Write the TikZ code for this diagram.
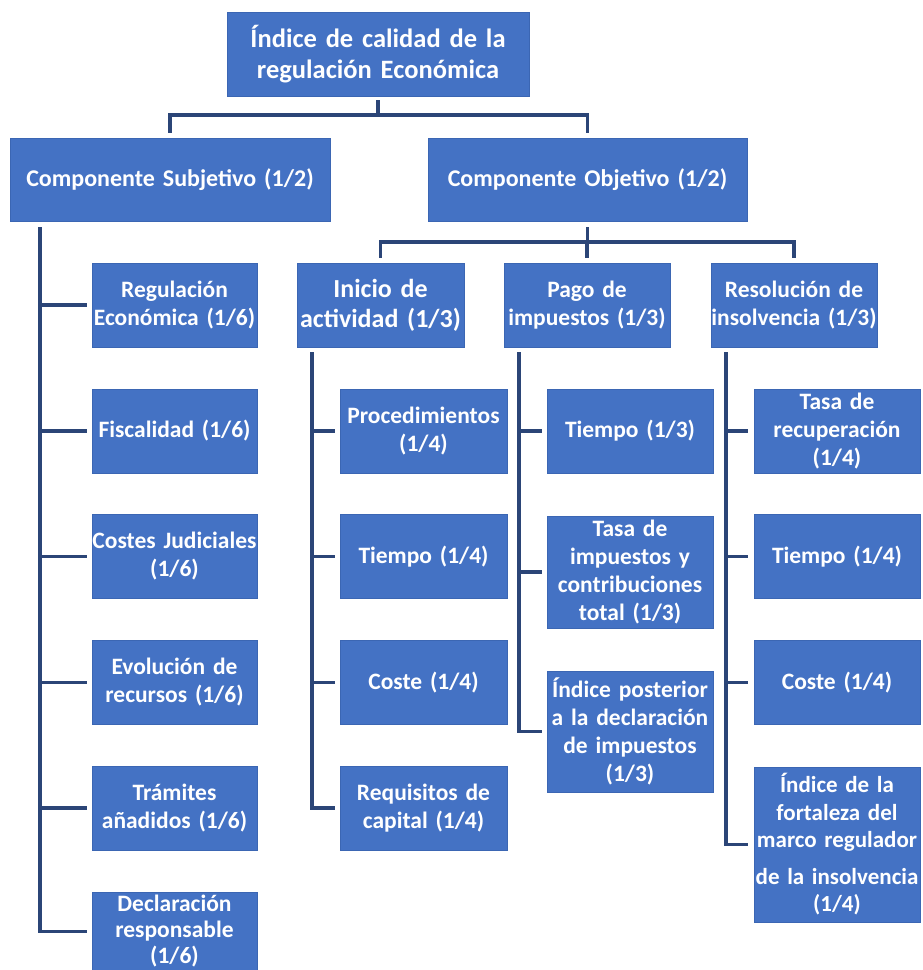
\documentclass[tikz,border=0pt]{standalone}
\usepackage{fontspec}
\setmainfont{Carlito}
\usetikzlibrary{calc}
\definecolor{boxblue}{HTML}{4472C4}
\definecolor{boxedge}{HTML}{3B66B3}
\definecolor{linecol}{HTML}{2B4577}
\begin{document}
\begin{tikzpicture}[x=1pt,y=-1pt,
  box/.style={fill=boxblue, draw=boxedge, line width=0.8pt, text=white, align=center, inner sep=0pt, font=\bfseries\fontsize{23.5}{28}\selectfont},
  sz/.style 2 args={minimum width=#1, text width=#1, minimum height=#2},
  bigtext/.style={font=\bfseries\fontsize{26.5}{31}\selectfont},
  midtext/.style={font=\bfseries\fontsize{24}{29}\selectfont},
  conn/.style={draw=linecol, line width=3.5pt, line join=miter}
]
\path[use as bounding box, clip] (0,0) rectangle (922,970);
\fill[white] (0,0) rectangle (922,970);

% level 0 and 1
\node[box, bigtext, sz={302pt}{84pt}] (top) at (378,54) {Índice de calidad de la\\regulación Económica};
\node[box, midtext, sz={320pt}{83pt}] (sub) at (170,179.5) {Componente Subjetivo (1/2)};
\node[box, midtext, sz={319pt}{83pt}] (obj) at (587.5,179.5) {Componente Objetivo (1/2)};

% level 2
\node[box, font=\bfseries\fontsize{26}{30}\selectfont, sz={167pt}{84pt}] (ini) at (380.5,305) {Inicio de\\actividad (1/3)};
\node[box, sz={166pt}{84pt}] (pago) at (587,305) {Pago de\\impuestos (1/3)};
\node[box, sz={166pt}{84pt}] (res) at (794,305) {Resolución de\\insolvencia (1/3)};

% subjective children
\node[box, sz={165pt}{84pt}] (s1) at (174.5,305) {Regulación\\Económica (1/6)};
\node[box, sz={165pt}{84pt}] (s2) at (174.5,431) {Fiscalidad (1/6)};
\node[box, sz={165pt}{84pt}] (s3) at (174.5,556.5) {Costes Judiciales\\(1/6)};
\node[box, sz={165pt}{84pt}] (s4) at (174.5,682.5) {Evolución de\\recursos (1/6)};
\node[box, sz={165pt}{84pt}] (s5) at (174.5,808) {Trámites\\añadidos (1/6)};
\node[box, font=\bfseries\fontsize{23.5}{26}\selectfont, sz={165pt}{79pt}] (s6) at (174.5,931.5) {Declaración\\responsable\\(1/6)};

% inicio children
\node[box, sz={167pt}{84pt}] (i1) at (423.5,431) {Procedimientos\\(1/4)};
\node[box, sz={167pt}{84pt}] (i2) at (423.5,556.5) {Tiempo (1/4)};
\node[box, sz={167pt}{84pt}] (i3) at (423.5,682.5) {Coste (1/4)};
\node[box, sz={167pt}{84pt}] (i4) at (423.5,808) {Requisitos de\\capital (1/4)};

% pago children
\node[box, sz={166pt}{84pt}] (p1) at (630,431) {Tiempo (1/3)};
\node[box, sz={166pt}{112pt}] (p2) at (630,572) {Tasa de\\impuestos y\\contribuciones\\total (1/3)};
\node[box, sz={166pt}{121pt}] (p3) at (630,731.5) {Índice posterior\\a la declaración\\de impuestos\\(1/3)};

% resolucion children
\node[box, sz={166pt}{84pt}] (r1) at (837,431) {Tasa de\\recuperación\\(1/4)};
\node[box, sz={166pt}{84pt}] (r2) at (837,556.5) {Tiempo (1/4)};
\node[box, sz={166pt}{84pt}] (r3) at (837,682.5) {Coste (1/4)};
\node[box, font=\bfseries\fontsize{23}{27.5}\selectfont, sz={166pt}{155pt}] (r4) at (837,844.5) {Índice de la\\fortaleza del\\\mbox{marco regulador}\\[9pt]\mbox{de la insolvencia}\\(1/4)};

% connectors top -> level 1
\coordinate (bus1) at (0,115);
\draw[conn, shorten <=4pt] (top.south) -- (top.south |- bus1);
\draw[conn, shorten >=5pt] (top.south |- bus1) -| (sub.north);
\draw[conn, shorten >=5pt] (top.south |- bus1) -| (obj.north);

% connectors obj -> level 2
\coordinate (bus2) at (0,242);
\draw[conn, shorten <=6pt] (obj.south) -- (obj.south |- bus2);
\draw[conn, shorten >=5pt] (obj.south |- bus2) -| (ini.north);
\draw[conn, shorten >=5pt] (obj.south |- bus2) -- (pago.north |- bus2) -- (pago.north);
\draw[conn, shorten >=5pt] (obj.south |- bus2) -| (res.north);

% trunks
\coordinate (tS) at (40,0);
\coordinate (tI) at (312,0);
\coordinate (tP) at (519,0);
\coordinate (tR) at (726,0);

\draw[conn, shorten >=5pt] ($(tS |- sub.south)+(0,6)$) |- (s6.west);
\foreach \n in {s1,s2,s3,s4,s5}
  \draw[conn, shorten >=5pt] (tS |- \n.west) -- (\n.west);

\draw[conn, shorten >=5pt] ($(tI |- ini.south)+(0,5)$) |- (i4.west);
\foreach \n in {i1,i2,i3}
  \draw[conn, shorten >=5pt] (tI |- \n.west) -- (\n.west);

\draw[conn, shorten >=5pt] ($(tP |- pago.south)+(0,5)$) |- (p3.west);
\foreach \n in {p1,p2}
  \draw[conn, shorten >=5pt] (tP |- \n.west) -- (\n.west);

\draw[conn, shorten >=6pt] ($(tR |- res.south)+(0,5)$) |- (r4.west);
\foreach \n in {r1,r2,r3}
  \draw[conn, shorten >=6pt] (tR |- \n.west) -- (\n.west);
\end{tikzpicture}
\end{document}
